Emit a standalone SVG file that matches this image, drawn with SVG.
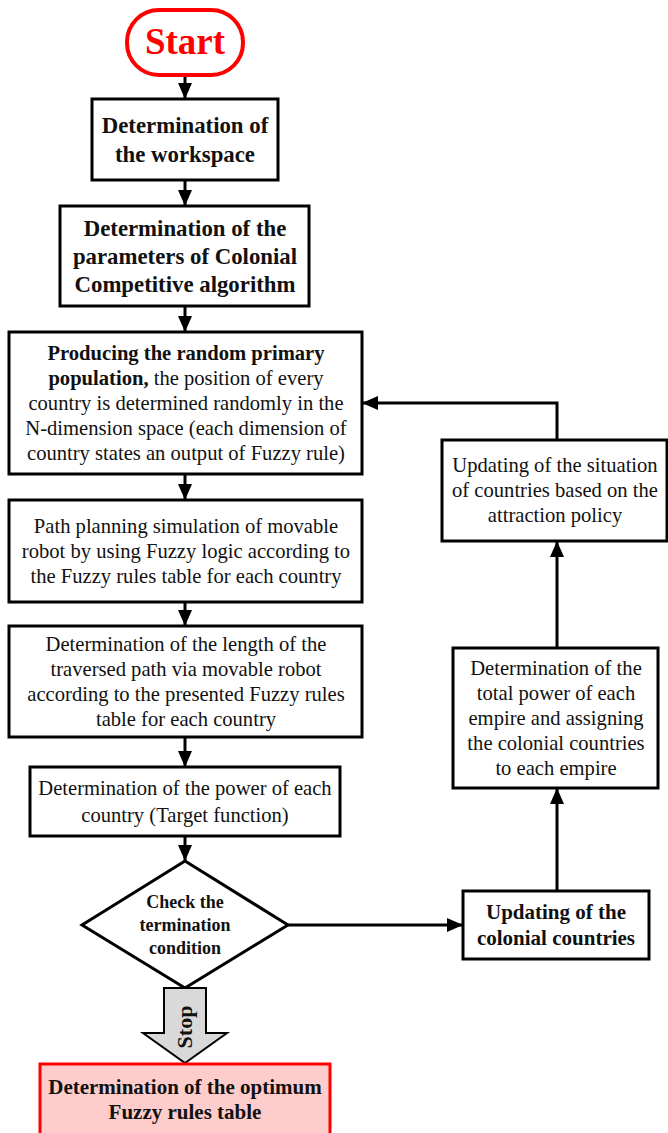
<svg xmlns="http://www.w3.org/2000/svg" width="668" height="1133" viewBox="0 0 668 1133">
<defs>
<marker id="ah" markerUnits="userSpaceOnUse" markerWidth="16" markerHeight="14" refX="16" refY="7" orient="auto">
<path d="M0,0 L16,7 L0,14 z" fill="#000"/>
</marker>
<style>
.box{fill:#fff;stroke:#000;stroke-width:3}
.t{font-family:"Liberation Serif","Times New Roman",serif;font-size:20.6px;fill:#111;text-anchor:middle}
.b{font-weight:bold}
.c{fill:none;stroke:#000;stroke-width:3;marker-end:url(#ah)}
</style>
</defs>
<rect width="668" height="1133" fill="#fff"/>
<g id="connectors">
<line class="c" x1="185" y1="75" x2="185" y2="99"/>
<line class="c" x1="185" y1="180" x2="185" y2="206"/>
<line class="c" x1="185" y1="306" x2="185" y2="332"/>
<line class="c" x1="185" y1="474" x2="185" y2="500"/>
<line class="c" x1="185" y1="602" x2="185" y2="626"/>
<line class="c" x1="185" y1="737" x2="185" y2="767"/>
<line class="c" x1="185" y1="836" x2="185" y2="861"/>
<line class="c" x1="288" y1="925" x2="463" y2="925"/>
<line class="c" x1="557" y1="891" x2="557" y2="788"/>
<line class="c" x1="557" y1="648" x2="557" y2="541"/>
<polyline class="c" points="557,440 557,403 362,403"/>
</g>
<g id="start">
<rect x="127" y="10" width="116" height="65" rx="32" ry="32" fill="#fff" stroke="#f00" stroke-width="4"/>
<text class="t b" x="185" y="54" style="font-size:37px;fill:#f00">Start</text>
</g>
<g id="workspace">
<rect class="box" x="92" y="99" width="186" height="81"/>
<text class="t b" style="font-size:22.8px" x="185" y="133">Determination of</text>
<text class="t b" style="font-size:22.8px" x="185" y="162">the workspace</text>
</g>
<g id="parameters">
<rect class="box" x="60" y="206" width="249" height="100"/>
<text class="t b" style="font-size:22.8px" x="185" y="236">Determination of the</text>
<text class="t b" style="font-size:22.8px" x="185" y="264">parameters of Colonial</text>
<text class="t b" style="font-size:22.8px" x="185" y="292">Competitive algorithm</text>
</g>
<g id="population">
<rect class="box" x="9" y="332" width="353" height="142"/>
<text class="t b" x="186" y="360">Producing the random primary</text>
<text class="t" x="186" y="385"><tspan font-weight="bold">population,</tspan> the position of every</text>
<text class="t" x="186" y="410">country is determined randomly in the</text>
<text class="t" x="186" y="435">N-dimension space (each dimension of</text>
<text class="t" x="186" y="460">country states an output of Fuzzy rule)</text>
</g>
<g id="simulation">
<rect class="box" x="9" y="500" width="353" height="102"/>
<text class="t" x="186" y="533">Path planning simulation of movable</text>
<text class="t" x="186" y="558">robot by using Fuzzy logic according to</text>
<text class="t" x="186" y="583">the Fuzzy rules table for each country</text>
</g>
<g id="length">
<rect class="box" x="9" y="626" width="353" height="111"/>
<text class="t" x="186" y="651">Determination of the length of the</text>
<text class="t" x="186" y="676">traversed path via movable robot</text>
<text class="t" x="186" y="701">according to the presented Fuzzy rules</text>
<text class="t" x="186" y="726">table for each country</text>
</g>
<g id="power">
<rect class="box" x="30" y="767" width="310" height="69"/>
<text class="t" x="185" y="795">Determination of the power of each</text>
<text class="t" x="185" y="822">country (Target function)</text>
</g>
<g id="check">
<polygon points="185,861 288,925 185,988 82,925" fill="#fff" stroke="#000" stroke-width="3"/>
<text class="t b" style="font-size:18px" x="185" y="908">Check the</text>
<text class="t b" style="font-size:18px" x="185" y="931">termination</text>
<text class="t b" style="font-size:18px" x="185" y="954">condition</text>
</g>
<g id="stop">
<polygon points="164,988 206,988 206,1033 227,1033 185,1063 143,1033 164,1033" fill="#d9d9d9" stroke="#000" stroke-width="2"/>
<text class="t b" style="font-size:22px" transform="translate(192,1027) rotate(-90)" x="0" y="0">Stop</text>
</g>
<g id="optimum">
<rect x="40" y="1064" width="290" height="80" fill="#ffcccc" stroke="#f00" stroke-width="3"/>
<text class="t b" style="font-size:21px" x="185" y="1094">Determination of the optimum</text>
<text class="t b" style="font-size:21px" x="185" y="1119">Fuzzy rules table</text>
</g>
<g id="colonial">
<rect class="box" x="463" y="891" width="186" height="68"/>
<text class="t b" style="font-size:21px" x="556" y="919">Updating of the</text>
<text class="t b" style="font-size:21px" x="556" y="945">colonial countries</text>
</g>
<g id="totalpower">
<rect class="box" x="453" y="648" width="205" height="140"/>
<text class="t" x="556" y="675">Determination of the</text>
<text class="t" x="556" y="700">total power of each</text>
<text class="t" x="556" y="725">empire and assigning</text>
<text class="t" x="556" y="750">the colonial countries</text>
<text class="t" x="556" y="775">to each empire</text>
</g>
<g id="situation">
<rect class="box" x="442" y="440" width="225" height="101"/>
<text class="t" x="555" y="472">Updating of the situation</text>
<text class="t" x="555" y="497">of countries based on the</text>
<text class="t" x="555" y="522">attraction policy</text>
</g>
</svg>
